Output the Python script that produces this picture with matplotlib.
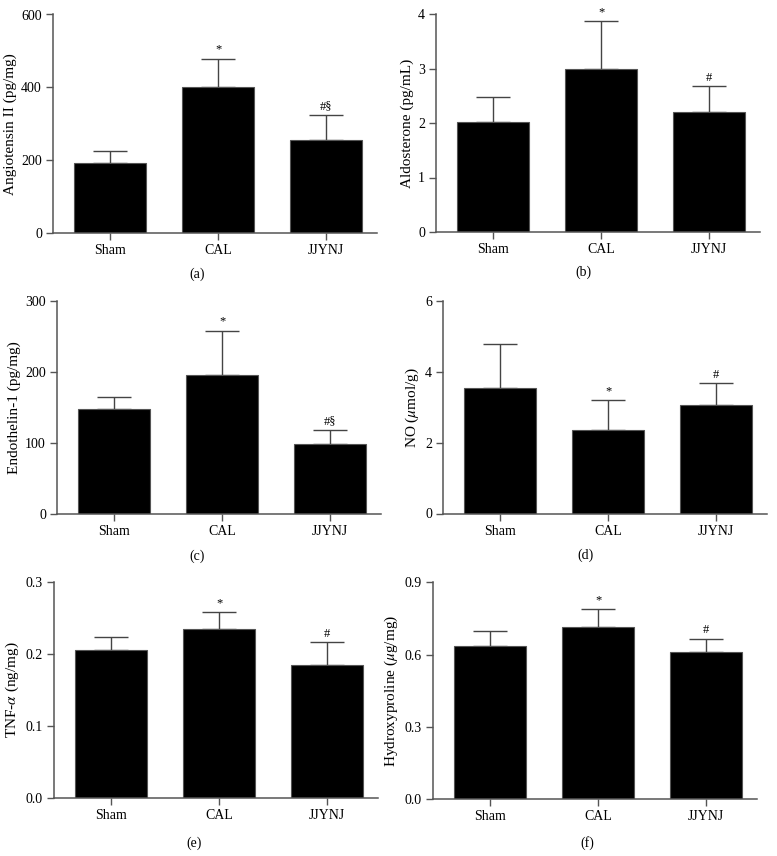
import matplotlib
matplotlib.use("Agg")
import matplotlib.pyplot as plt
from matplotlib import font_manager
import numpy as np

# make sure the Times-like serif is really there
font_manager.findfont("Liberation Serif", fallback_to_default=False)
plt.rcParams["font.family"] = ["Liberation Serif", "DejaVu Serif"]
plt.rcParams["mathtext.fontset"] = "stix"

groups = ["Sham", "CAL", "JJYNJ"]

# values (mean, upper SD)
ang2 = [192, 402, 256]
ang2_sd = [32, 77, 67]
aldo = [2.01, 3.00, 2.21]
aldo_sd = [0.47, 0.87, 0.46]
et1 = [147, 196, 98]
et1_sd = [17, 62, 20]
no = [3.53, 2.35, 3.07]
no_sd = [1.25, 0.85, 0.60]
tnf = [0.205, 0.234, 0.185]
tnf_sd = [0.019, 0.024, 0.031]
hyp = [0.634, 0.713, 0.612]
hyp_sd = [0.063, 0.075, 0.053]

marks_a = ["", "*", "#§"]
marks_b = ["", "*", "#"]

W, H = 777, 856
fig = plt.figure(figsize=(W / 100, H / 100), dpi=100)


def make_axes(left, top, bottom, width=324):
    # pixel box -> figure fraction
    return fig.add_axes([left / W, (H - bottom) / H, width / W, (bottom - top) / H])


def bar_panel(ax, vals, sds, ylim, yticks, yticklabels, ylabel, marks):
    x = np.arange(len(groups))
    ax.bar(x, vals, width=0.67, color="black", edgecolor="#555555", linewidth=0.8, zorder=2)
    ax.errorbar(x, vals, yerr=[np.zeros(len(vals)), sds], fmt="none",
                ecolor="#444444", elinewidth=1.0, capsize=12.5, capthick=1.0, zorder=1)
    for xi, v, s, m in zip(x, vals, sds, marks):
        if m:
            ax.annotate(m, (xi, v + s), xytext=(0, 2), textcoords="offset points",
                        ha="center", va="bottom", fontsize=9)
    ax.set_xlim(-0.53, 2.47)
    ax.set_ylim(*ylim)
    ax.set_yticks(yticks)
    ax.set_yticklabels(yticklabels)
    ax.set_xticks(x)
    ax.set_xticklabels(groups)
    ax.set_ylabel(ylabel, fontsize=11, labelpad=3)
    for sp in ["top", "right"]:
        ax.spines[sp].set_visible(False)
    for sp in ["left", "bottom"]:
        ax.spines[sp].set_color("#555555")
        ax.spines[sp].set_linewidth(1.1)
    ax.tick_params(axis="both", labelsize=10, length=5, width=1.0, color="#555555", pad=3)


ax_a = make_axes(53, 14.5, 233)
bar_panel(ax_a, ang2, ang2_sd, (0, 600), [0, 200, 400, 600], ["0", "200", "400", "600"],
          "Angiotensin II (pg/mg)", marks_a)

ax_b = make_axes(436, 14, 232)
bar_panel(ax_b, aldo, aldo_sd, (0, 4), [0, 1, 2, 3, 4], ["0", "1", "2", "3", "4"],
          "Aldosterone (pg/mL)", marks_b)

ax_c = make_axes(57, 300.7, 514)
bar_panel(ax_c, et1, et1_sd, (0, 300), [0, 100, 200, 300], ["0", "100", "200", "300"],
          "Endothelin-1 (pg/mg)", marks_a)

ax_d = make_axes(443, 300.7, 513.5)
bar_panel(ax_d, no, no_sd, (0, 6), [0, 2, 4, 6], ["0", "2", "4", "6"],
          r"NO ($\mu$mol/g)", marks_b)

ax_e = make_axes(54, 581.7, 798.3)
bar_panel(ax_e, tnf, tnf_sd, (0, 0.3), [0, 0.1, 0.2, 0.3], ["0.0", "0.1", "0.2", "0.3"],
          r"TNF-$\alpha$ (ng/mg)", marks_b)

ax_f = make_axes(433, 582.3, 799.3)
bar_panel(ax_f, hyp, hyp_sd, (0, 0.9), [0, 0.3, 0.6, 0.9], ["0.0", "0.3", "0.6", "0.9"],
          r"Hydroxyproline ($\mu$g/mg)", marks_b)

# panel letters
for lab, px, py in [("(a)", 197, 274), ("(b)", 583, 272), ("(c)", 197, 556),
                    ("(d)", 586, 555), ("(e)", 194, 843), ("(f)", 587, 843)]:
    fig.text(px / W, (H - py) / H, lab, ha="center", va="center", fontsize=10)

fig.savefig("out.png", dpi=100)
